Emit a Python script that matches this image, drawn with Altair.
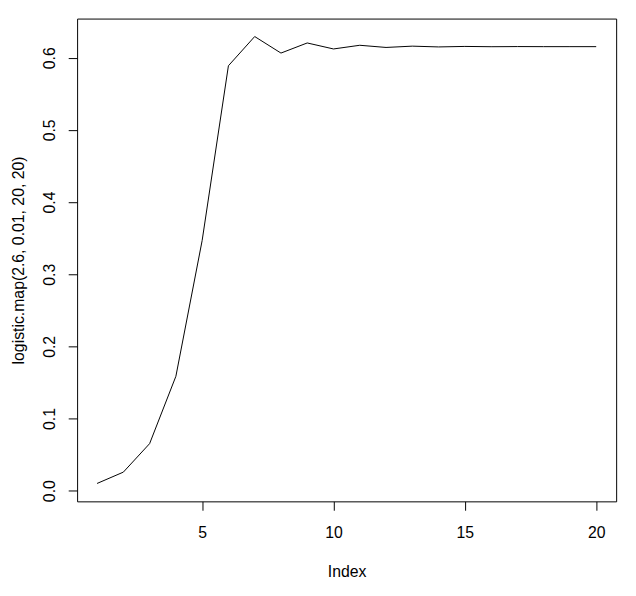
import altair as alt
import pandas as pd

index = list(range(1, 21))
values = [0.0100, 0.0257, 0.0652, 0.1585, 0.3467, 0.5889, 0.6294, 0.6065,
          0.6205, 0.6122, 0.6173, 0.6143, 0.6161, 0.6150, 0.6157, 0.6153,
          0.6155, 0.6154, 0.6154, 0.6154]
x_ticks = [5, 10, 15, 20]
y_ticks = [0.0, 0.1, 0.2, 0.3, 0.4, 0.5, 0.6]

df = pd.DataFrame({"Index": index, "value": values})

FONT = "Liberation Sans"
FS = 16

chart = alt.Chart(df).mark_line(color="black", strokeWidth=1).encode(
    x=alt.X("Index:Q", scale=alt.Scale(domain=[0.24, 20.76], nice=False, zero=False),
            axis=alt.Axis(values=x_ticks, title="Index", grid=False, domain=False,
                          tickColor="black", tickSize=9, tickWidth=1,
                          labelPadding=15, labelFontSize=FS, labelColor="black",
                          labelFont=FONT, titleFont=FONT, titleFontSize=FS,
                          titleFontWeight="normal", titleColor="black",
                          titlePadding=23)),
    y=alt.Y("value:Q", scale=alt.Scale(domain=[-0.0148, 0.6543], nice=False, zero=False),
            axis=alt.Axis(values=y_ticks, format=".1f",
                          title="logistic.map(2.6, 0.01, 20, 20)", grid=False, domain=False,
                          tickColor="black", tickSize=9, tickWidth=1,
                          labelAngle=270, labelAlign="center", labelBaseline="bottom",
                          labelPadding=11, labelFontSize=FS, labelColor="black",
                          labelFont=FONT, titleFont=FONT, titleFontSize=FS,
                          titleFontWeight="normal", titleColor="black",
                          titlePadding=15)),
).properties(
    width=546, height=489,
    autosize=alt.AutoSizeParams(type="none"),
    padding={"left": 70, "top": 7, "right": 12, "bottom": 80},
    background="white",
).configure_view(stroke="black", strokeWidth=1)

chart.save("out.html", embed_options={"renderer": "svg", "actions": False})
